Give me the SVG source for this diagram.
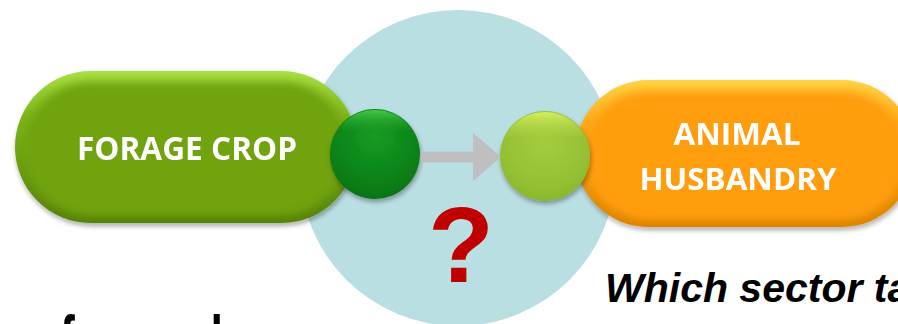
<svg xmlns="http://www.w3.org/2000/svg" width="898" height="324" viewBox="0 0 898 324">
  <style>
    .label { font-family: "Open Sans", "Liberation Sans", sans-serif; font-weight: 700; fill: #ffffff; text-anchor: middle; }
    .big { font-family: "Liberation Sans", Arial, sans-serif; font-weight: 700; fill: #000000; }
  </style>
  <defs>
    <filter id="soft" x="-10%" y="-10%" width="120%" height="120%">
      <feGaussianBlur stdDeviation="4"/>
    </filter>
    <filter id="shadow" x="-20%" y="-20%" width="140%" height="150%">
      <feGaussianBlur in="SourceAlpha" stdDeviation="2.5"/>
      <feOffset dx="1" dy="3" result="b"/>
      <feComponentTransfer><feFuncA type="linear" slope="0.35"/></feComponentTransfer>
      <feMerge><feMergeNode/><feMergeNode in="SourceGraphic"/></feMerge>
    </filter>
    <linearGradient id="greenRim" x1="0" y1="0" x2="0" y2="1">
      <stop offset="0" stop-color="#a9e044"/>
      <stop offset="0.3" stop-color="#7db51a"/>
      <stop offset="1" stop-color="#557f08"/>
    </linearGradient>
    <linearGradient id="orangeRim" x1="0" y1="0" x2="0" y2="1">
      <stop offset="0" stop-color="#ffd445"/>
      <stop offset="0.3" stop-color="#ffaa1c"/>
      <stop offset="1" stop-color="#d98200"/>
    </linearGradient>
    <radialGradient id="darkBall" cx="0.5" cy="0.3" r="0.7">
      <stop offset="0" stop-color="#1a9a24"/>
      <stop offset="0.6" stop-color="#0a861a"/>
      <stop offset="1" stop-color="#067414"/>
    </radialGradient>
    <linearGradient id="darkBallTop" x1="0" y1="0" x2="0" y2="1">
      <stop offset="0" stop-color="#4ccf4c" stop-opacity="0.9"/>
      <stop offset="0.25" stop-color="#2aa52e" stop-opacity="0"/>
    </linearGradient>
    <radialGradient id="lightBall" cx="0.5" cy="0.35" r="0.7">
      <stop offset="0" stop-color="#a4cc3e"/>
      <stop offset="0.7" stop-color="#95c034"/>
      <stop offset="1" stop-color="#86b42a"/>
    </radialGradient>
    <linearGradient id="lightBallTop" x1="0" y1="0" x2="0" y2="1">
      <stop offset="0" stop-color="#d8f060" stop-opacity="0.95"/>
      <stop offset="0.3" stop-color="#b8dc4c" stop-opacity="0"/>
    </linearGradient>
  </defs>

  <!-- backdrop disc -->
  <circle id="focus-disc" cx="458" cy="168" r="158" fill="#badfe3"/>

  <!-- left node -->
  <g id="forage-crop" filter="url(#shadow)">
    <rect x="15" y="71" width="342" height="152" rx="76" fill="url(#greenRim)"/>
    <rect x="24" y="82" width="324" height="134" rx="67" fill="#6fa30c" filter="url(#soft)"/>
    <text class="label" x="187" y="160" font-size="32" textLength="220" lengthAdjust="spacingAndGlyphs">FORAGE CROP</text>
  </g>

  <!-- right node -->
  <g id="animal-husbandry" filter="url(#shadow)">
    <rect x="575" y="80" width="340" height="147" rx="73.5" fill="url(#orangeRim)"/>
    <rect x="584" y="91" width="322" height="129" rx="64.5" fill="#ff9d0a" filter="url(#soft)"/>
    <text class="label" x="737" y="145" font-size="30" textLength="127" lengthAdjust="spacingAndGlyphs">ANIMAL</text>
    <text class="label" x="738" y="190" font-size="30" textLength="197" lengthAdjust="spacingAndGlyphs">HUSBANDRY</text>
  </g>

  <!-- output port -->
  <g id="port-out" filter="url(#shadow)">
    <circle cx="375" cy="154" r="45" fill="url(#darkBall)"/>
    <circle cx="375" cy="154" r="44" fill="url(#darkBallTop)"/>
  </g>

  <!-- input port -->
  <g id="port-in" filter="url(#shadow)">
    <circle cx="545" cy="156" r="45" fill="url(#lightBall)"/>
    <circle cx="545" cy="156" r="44" fill="url(#lightBallTop)"/>
  </g>

  <!-- connectors -->
  <g id="connectors">
    <polygon points="421,151.5 473,151.5 473,133 501,157 473,181 473,162.5 421,162.5" fill="#bfbfbf"/>
  </g>

  <text id="question" x="461" y="282" font-family="Liberation Sans, Arial, sans-serif" font-weight="700" font-size="108" fill="#c00000" text-anchor="middle">?</text>

  <text class="big" x="605" y="302" font-size="41" font-style="italic">Which sector ta</text>
  <text class="big" x="60" y="365" font-size="70" textLength="163" lengthAdjust="spacingAndGlyphs">forward</text>
</svg>
